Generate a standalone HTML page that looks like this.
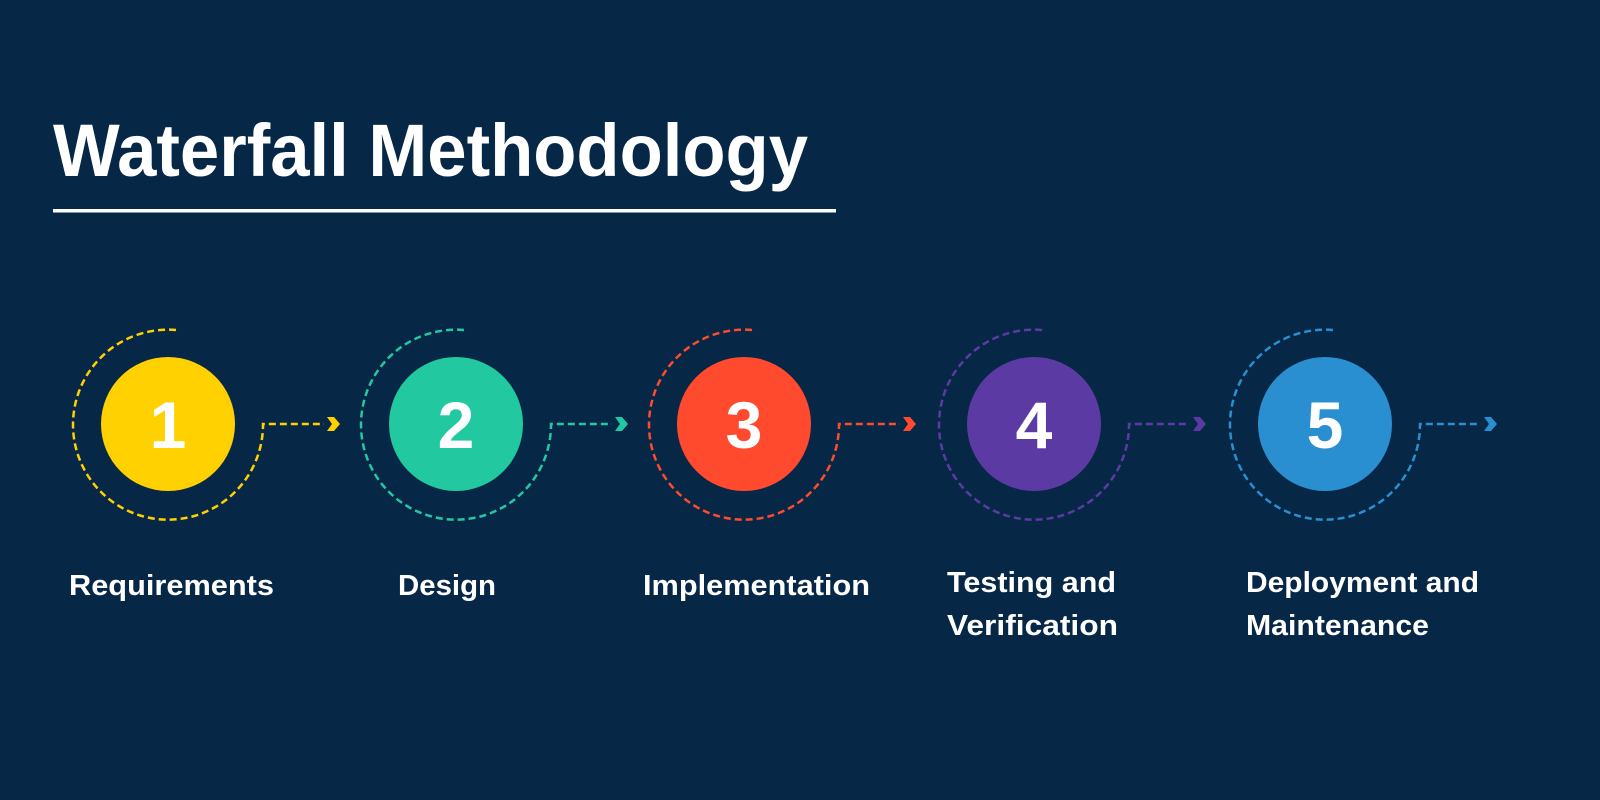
<!DOCTYPE html>
<html><head><meta charset="utf-8"><style>
html,body{margin:0;padding:0;background:#072747;}
svg{display:block;}
text{font-family:"Liberation Sans",sans-serif;font-weight:bold;fill:#fff;}
</style></head><body>
<svg width="1600" height="800" viewBox="0 0 1600 800" xmlns="http://www.w3.org/2000/svg">
<rect width="1600" height="800" fill="#072747"/>
<text x="53" y="176" font-size="74" textLength="755" lengthAdjust="spacingAndGlyphs">Waterfall Methodology</text>
<rect x="53" y="209" width="783" height="3.5" fill="#fff"/>

<g fill="none" stroke-width="2.5" stroke-dasharray="7 4">
<path d="M176 330 A95 95 0 1 0 263 424 L324 424" stroke="#FFD100"/>
<path d="M464 330 A95 95 0 1 0 551 424 L612 424" stroke="#22C9A0"/>
<path d="M752 330 A95 95 0 1 0 839 424 L900 424" stroke="#FF4A2E"/>
<path d="M1042 330 A95 95 0 1 0 1129 424 L1190 424" stroke="#5B3BA3"/>
<path d="M1333 330 A95 95 0 1 0 1420 424 L1481 424" stroke="#2A8FD0"/>
</g>
<g>
<polygon points="327,417 334,417 340,424 334,431 327,431 332,424" fill="#FFD100"/>
<polygon points="615,417 622,417 628,424 622,431 615,431 620,424" fill="#22C9A0"/>
<polygon points="903,417 910,417 916,424 910,431 903,431 908,424" fill="#FF4A2E"/>
<polygon points="1193,417 1200,417 1206,424 1200,431 1193,431 1198,424" fill="#5B3BA3"/>
<polygon points="1484,417 1491,417 1497,424 1491,431 1484,431 1489,424" fill="#2A8FD0"/>
</g>
<circle cx="168" cy="424" r="67" fill="#FFD100"/>
<circle cx="456" cy="424" r="67" fill="#22C9A0"/>
<circle cx="744" cy="424" r="67" fill="#FF4A2E"/>
<circle cx="1034" cy="424" r="67" fill="#5B3BA3"/>
<circle cx="1325" cy="424" r="67" fill="#2A8FD0"/>
<g font-size="66" text-anchor="middle">
<text x="168" y="448">1</text>
<text x="456" y="448">2</text>
<text x="744" y="448">3</text>
<text x="1034" y="448">4</text>
<text x="1325" y="448">5</text>
</g>
<g font-size="29">
<text x="69" y="595" textLength="205" lengthAdjust="spacingAndGlyphs">Requirements</text>
<text x="398" y="595" textLength="98" lengthAdjust="spacingAndGlyphs">Design</text>
<text x="643" y="595" textLength="227" lengthAdjust="spacingAndGlyphs">Implementation</text>
<text x="947" y="592" textLength="169" lengthAdjust="spacingAndGlyphs">Testing and</text>
<text x="947" y="635" textLength="171" lengthAdjust="spacingAndGlyphs">Verification</text>
<text x="1246" y="592" textLength="233" lengthAdjust="spacingAndGlyphs">Deployment and</text>
<text x="1246" y="635" textLength="183" lengthAdjust="spacingAndGlyphs">Maintenance</text>
</g>
</svg>
</body></html>
